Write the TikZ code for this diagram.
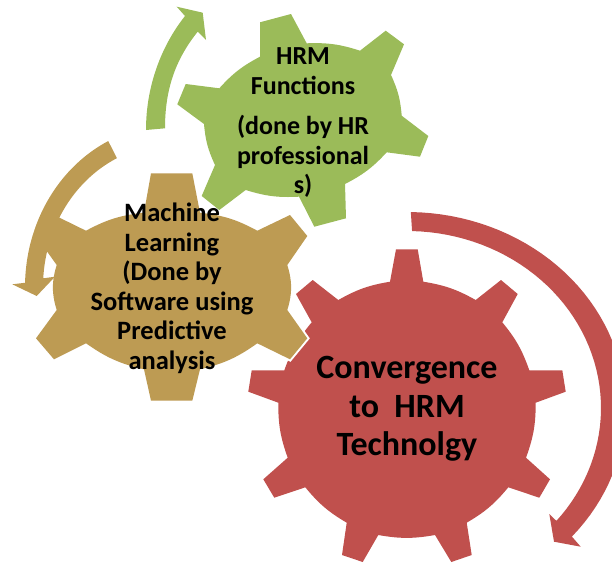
\documentclass[tikz,border=0pt]{standalone}
\usepackage{fontspec}
\setmainfont{Carlito}
\definecolor{gearred}{HTML}{C0504D}
\definecolor{geargreen}{HTML}{9BBB59}
\definecolor{gearbrown}{HTML}{BD9B53}
\tikzset{
  gearshape/.style={fill=#1,preaction={draw=white,line width=4pt,line join=miter}},
  arrowshape/.style={fill=#1},
  lbl/.style={font=\bfseries\fontsize{#1}{#1}\selectfont,align=center,text=black,inner sep=0pt},
  bb/.style={bend left=10}
}
\begin{document}
\begin{tikzpicture}[x=1pt,y=-1pt]
\clip (0,0) rectangle (612,562);
% red gear
\fill[gearred] (396,249.3) -- (417.7,249.3) -- (423.3,281.7) to[bb] (475.7,300) -- (501,280) -- (517.7,294) -- (502.3,322.3)
  to[bb] (529.3,370.3) -- (562.3,370.3) -- (565.7,391.7) -- (535.7,402.7)
  to[bb] (526,457.7) -- (550,479.3) -- (539.3,497.7) -- (508.3,487.3)
  to[bb] (466.7,522.7) -- (471.7,555) -- (451.3,562) -- (435,535)
  to[bb] (378.3,535) -- (362.7,562) -- (342,555) -- (346.7,522.7)
  to[bb] (305.3,487.3) -- (274.3,497.7) -- (263.3,479.3) -- (287.7,457.7)
  to[bb] (278.3,402.7) -- (248.3,391.7) -- (251.7,370.3) -- (284.3,370.3)
  to[bb] (311.7,322.3) -- (296,294) -- (312.7,280) -- (338.3,300)
  to[bb] (390,281.7) -- cycle;
% red arrow
\fill[arrowshape=gearred] plot[domain=-89:41,samples=50] ({407+218.5*cos(\x)},{408+196*sin(\x)})
  -- (580.7,546.7) -- (554,541.7) -- (549.3,514)
  -- (558.3,522.7) -- plot[domain=40:-88.5,samples=50] ({407+194*cos(\x)},{408+177*sin(\x)}) -- cycle;
% brown gear
\path[gearshape=gearbrown] (151,173.3) -- (192.3,173.3) -- (200,212.7) to[bend left=11] (257.3,230.7) -- (290,215) -- (307.3,236) -- (287.3,265)
  to[bend left=17] (287.3,310) -- (307.3,338.3) -- (290,359.3) -- (257.3,343.3)
  to[bend left=11] (200,369.3) -- (192.3,400.7) -- (151,400.7) -- (144,369.3)
  to[bend left=11] (86,343.3) -- (54,359.3) -- (36,338.3) -- (56.7,310)
  to[bend left=17] (56.7,265) -- (36,236) -- (54,215) -- (86,230.7)
  to[bend left=11] (144,212.7) -- cycle;
% brown arrow
\fill[arrowshape=gearbrown] plot[domain=244.3:181.5,samples=40] ({172+147*cos(\x)},{287+162*sin(\x)})
  -- (12.3,284.3) -- (36.7,296) -- (55,276.7) -- (43.3,278.3)
  -- plot[domain=183.5:244.7,samples=40] ({172+129*cos(\x)},{287+142.5*sin(\x)}) -- cycle;
% green gear
\path[gearshape=geargreen] (260,22.3) -- (291,14) -- (306.7,43.3) to[bb] (360,50.7) -- (385.7,30.7) -- (404,44.3) -- (391,75)
  to[bb] (401.7,115.7) -- (428.3,136) -- (420,156.7) -- (386.7,152.3)
  to[bb] (345,184) -- (346,218.3) -- (314.3,226.7) -- (299,196.7)
  to[bb] (245.7,190) -- (219.3,210) -- (201.7,196) -- (215,165)
  to[bb] (204,124) -- (177.3,104.3) -- (185.7,84) -- (219.3,88.3)
  to[bb] (260,56.7) -- cycle;
% green arrow
\fill[arrowshape=geargreen] (146,130) .. controls (146,85) and (162,45) .. (185,16)
  -- (176.7,6.7) -- (202.7,12.7) -- (206,40) -- (197.7,31.7)
  .. controls (175,60) and (165,90) .. (165,128.3) -- cycle;
% labels
\node[lbl=26] (hrm) at (303,71) {HRM\\[4pt]Functions};
\node[lbl=26] (done) at (303,156.5) {(done by HR\\[3.5pt]professional\\[3.5pt]s)};
\node[lbl=26.5] (ml) at (172,288.5) {Machine\\[3pt]Learning\\[3pt](Done by\\[3pt]Software using\\[3pt]Predictive\\[3pt]analysis};
\node[lbl=34] (conv) at (407,409) {Convergence\\[4.5pt]to\ \ HRM\\[4.5pt]Technolgy};
\end{tikzpicture}
\end{document}
